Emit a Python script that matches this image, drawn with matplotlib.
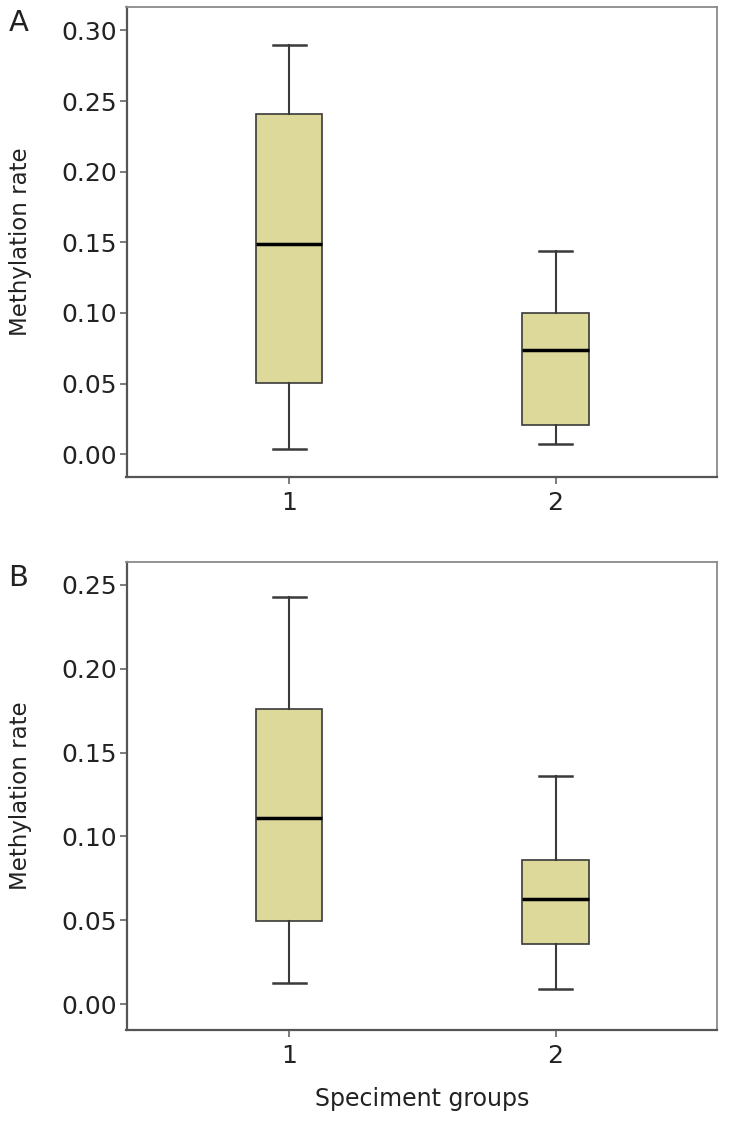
import matplotlib
matplotlib.use("Agg")
import matplotlib.pyplot as plt

# ---------- Data ----------
groups = ["1", "2"]

# panel A (whisker low, Q1, median, Q3, whisker high)
a_low = [0.004, 0.007]
a_q1 = [0.0505, 0.0205]
a_med = [0.1485, 0.0738]
a_q3 = [0.2412, 0.1002]
a_high = [0.290, 0.1438]

# panel B
b_low = [0.0125, 0.0091]
b_q1 = [0.0496, 0.0358]
b_med = [0.1111, 0.0626]
b_q3 = [0.176, 0.0859]
b_high = [0.243, 0.136]

a_ticks = [0.00, 0.05, 0.10, 0.15, 0.20, 0.25, 0.30]
b_ticks = [0.00, 0.05, 0.10, 0.15, 0.20, 0.25]

FILL = "#dcd99b"
EDGE = "#3a3a3a"

plt.rcParams["font.family"] = "DejaVu Sans"


def make_stats(low, q1, med, q3, high):
    return [{"whislo": lo, "q1": a, "med": m, "q3": b, "whishi": hi, "fliers": [], "label": g}
            for g, lo, a, m, b, hi in zip(groups, low, q1, med, q3, high)]


def draw_panel(ax, stats, ticks, ylim, letter):
    ax.bxp(stats, positions=[1, 2], widths=0.25, patch_artist=True, showfliers=False,
           boxprops=dict(facecolor=FILL, edgecolor=EDGE, linewidth=1.2),
           whiskerprops=dict(color=EDGE, linewidth=1.5),
           capprops=dict(color=EDGE, linewidth=1.8),
           medianprops=dict(color="black", linewidth=2.5),
           capwidths=0.124)
    ax.set_xlim(0.39, 2.606)
    ax.set_ylim(*ylim)
    ax.set_yticks(ticks)
    ax.set_yticklabels([f"{t:.2f}" for t in ticks])
    ax.set_xticks([1, 2])
    ax.set_xticklabels(groups)
    ax.tick_params(axis="both", labelsize=18, labelcolor="#222222", color="#666666",
                   length=5, width=1.2)
    ax.tick_params(axis="x", pad=5)
    ax.tick_params(axis="y", pad=2)
    for side in ["top", "right"]:
        ax.spines[side].set_color("#8a8a8a")
        ax.spines[side].set_linewidth(1.3)
    for side in ["left", "bottom"]:
        ax.spines[side].set_color("#555555")
        ax.spines[side].set_linewidth(1.6)
    ax.set_ylabel("Methylation rate", fontsize=16.5, color="#222222")
    ax.yaxis.set_label_coords(-0.16, 0.5)
    ax.text(-0.2, 0.965, letter, transform=ax.transAxes, fontsize=21,
            color="#222222", ha="left", va="center")


fig = plt.figure(figsize=(7.29, 11.29), dpi=100)
W, H = 729, 1129
ax1 = fig.add_axes([126.5 / W, 1 - 477 / H, (717 - 126.5) / W, (477 - 7) / H])
ax2 = fig.add_axes([126.5 / W, 1 - 1030 / H, (717 - 126.5) / W, (1030 - 562) / H])

draw_panel(ax1, make_stats(a_low, a_q1, a_med, a_q3, a_high), a_ticks, (-0.0161, 0.3166), "A")
draw_panel(ax2, make_stats(b_low, b_q1, b_med, b_q3, b_high), b_ticks, (-0.0155, 0.2637), "B")

ax2.set_xlabel("Speciment groups", fontsize=17, color="#222222", labelpad=14)

fig.savefig("out.png", dpi=100)
